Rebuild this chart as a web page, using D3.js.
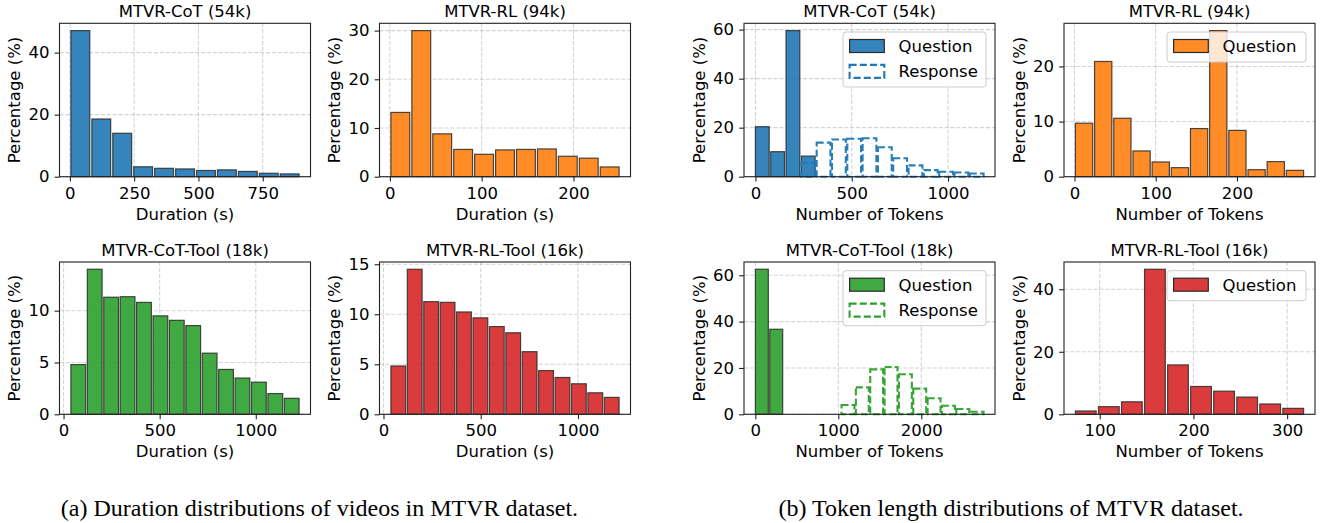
<!DOCTYPE html>
<html><head><meta charset="utf-8">
<script src="https://cdn.jsdelivr.net/npm/d3@7"></script>
<style>body{margin:0;background:#fff} svg{display:block}</style>
</head><body><svg id="c" width="1325" height="523"></svg>
<script>
// ---------- data ----------
const titles = ["MTVR-CoT (54k)", "MTVR-RL (94k)", "MTVR-CoT-Tool (18k)", "MTVR-RL-Tool (16k)",
                "MTVR-CoT (54k)", "MTVR-RL (94k)", "MTVR-CoT-Tool (18k)", "MTVR-RL-Tool (16k)"];
const xLabels = ["Duration (s)", "Duration (s)", "Duration (s)", "Duration (s)",
                 "Number of Tokens", "Number of Tokens", "Number of Tokens", "Number of Tokens"];
const yLabel = "Percentage (%)";
const seriesNames = ["Question", "Response"];
const captions = ["(a) Duration distributions of videos in MTVR dataset.",
                  "(b) Token length distributions of MTVR dataset."];

// (a) duration histograms: bin start, bin width, percentages
const durCoTBins = [0, 81.4];
const durCoT = [47.1, 18.6, 14.0, 3.2, 2.7, 2.5, 2.0, 2.2, 1.7, 1.1, 0.9];
const durRLBins = [0, 22.8];
const durRL = [13.2, 30.0, 8.8, 5.6, 4.6, 5.5, 5.6, 5.7, 4.2, 3.8, 2.0];
const durCoTToolBins = [34, 85.4];
const durCoTTool = [4.8, 14.0, 11.3, 11.35, 10.8, 9.5, 9.07, 8.56, 5.9, 4.33, 3.5, 3.1, 2.0, 1.54];
const durRLToolBins = [34, 84.4];
const durRLTool = [4.83, 14.5, 11.26, 11.19, 10.23, 9.64, 8.77, 8.15, 6.26, 4.37, 3.68, 3.05, 2.15, 1.69];

// (b) token histograms (shared bins per panel; first bin index of each series)
const tokCoTBins = [-4, 79.5];
const tokCoTQuestion = [20.4, 10.2, 59.6, 8.4];            // bins 0..3
const tokCoTResponse = [5.7, 13.9, 15.2, 15.5, 15.7, 12.0, 7.5, 4.6, 2.7, 2.0, 1.7, 1.3]; // bins 3..14
const tokCoTOffsets = [0, 3];
const tokRLBins = [0, 23.6];
const tokRLQuestion = [9.7, 20.9, 10.6, 4.67, 2.67, 1.64, 8.73, 26.5, 8.4, 1.27, 2.73, 1.15];
const tokCoTToolBins = [-8, 173];
const tokCoTToolQuestion = [62.6, 36.7];                    // bins 0..1
const tokCoTToolResponse = [4.0, 11.6, 19.4, 20.4, 17.3, 11.1, 6.9, 3.7, 2.3, 1.1]; // bins 6..15
const tokCoTToolOffsets = [0, 6];
const tokRLToolBins = [72.8, 24.6];
const tokRLToolQuestion = [1.06, 2.44, 4.0, 46.4, 15.8, 8.9, 7.4, 5.5, 3.3, 1.9];

// tick values
const xTicks = [[0,250,500,750],[0,100,200],[0,500,1000],[0,500,1000],
                [0,500,1000],[0,100,200],[0,1000,2000],[100,200,300]];
const yTicks = [[0,20,40],[0,10,20,30],[0,5,10],[0,5,10,15],
                [0,20,40,60],[0,10,20],[0,20,40,60],[0,20,40]];

const colors = {blue:"#1f77b4", orange:"#ff7f0e", green:"#2ca02c", red:"#d62728"};

// ---------- layout ----------
const colX = [59.5, 379.5, 744, 1064], panelW = 251;
const rowY = [23.3, 262], rowH = [153.4, 152.3];
const FONT = "'DejaVu Sans', sans-serif", FS = 16.5;

const panels = [
  {col:0,row:0,color:colors.blue,  series:[{v:durCoT,b:durCoTBins,o:0,type:"solid"}]},
  {col:1,row:0,color:colors.orange,series:[{v:durRL,b:durRLBins,o:0,type:"solid"}]},
  {col:0,row:1,color:colors.green, series:[{v:durCoTTool,b:durCoTToolBins,o:0,type:"solid"}]},
  {col:1,row:1,color:colors.red,   series:[{v:durRLTool,b:durRLToolBins,o:0,type:"solid"}]},
  {col:2,row:0,color:colors.blue,  legend:true, series:[
      {v:tokCoTQuestion,b:tokCoTBins,o:tokCoTOffsets[0],type:"solid",name:seriesNames[0]},
      {v:tokCoTResponse,b:tokCoTBins,o:tokCoTOffsets[1],type:"dashed",name:seriesNames[1]}]},
  {col:3,row:0,color:colors.orange,legend:true, series:[
      {v:tokRLQuestion,b:tokRLBins,o:0,type:"solid",name:seriesNames[0]}]},
  {col:2,row:1,color:colors.green, legend:true, series:[
      {v:tokCoTToolQuestion,b:tokCoTToolBins,o:tokCoTToolOffsets[0],type:"solid",name:seriesNames[0]},
      {v:tokCoTToolResponse,b:tokCoTToolBins,o:tokCoTToolOffsets[1],type:"dashed",name:seriesNames[1]}]},
  {col:3,row:1,color:colors.red,   legend:true, series:[
      {v:tokRLToolQuestion,b:tokRLToolBins,o:0,type:"solid",name:seriesNames[0]}]},
];

const svg = d3.select("#c");
svg.append("rect").attr("width",1325).attr("height",523).attr("fill","#fff");

panels.forEach((p, idx) => {
  const px = colX[p.col], py = rowY[p.row], w = panelW, h = rowH[p.row];
  const g = svg.append("g").attr("transform", `translate(${px},${py})`);
  const RW = 0.9;
  let lo = Infinity, hi = -Infinity, ymax = 0;
  p.series.forEach(s => {
    const [st, bw] = s.b, n = s.v.length;
    lo = Math.min(lo, st + s.o*bw + (1-RW)/2*bw);
    hi = Math.max(hi, st + (s.o+n)*bw - (1-RW)/2*bw);
    ymax = Math.max(ymax, d3.max(s.v));
  });
  const pad = (hi - lo) * 0.05;
  const x = d3.scaleLinear().domain([lo - pad, hi + pad]).range([0, w]);
  const y = d3.scaleLinear().domain([0, ymax * 1.05]).range([h, 0]);

  // grid
  const grid = g.append("g");
  xTicks[idx].forEach(t => grid.append("line").attr("x1",x(t)).attr("x2",x(t)).attr("y1",0).attr("y2",h));
  yTicks[idx].forEach(t => grid.append("line").attr("y1",y(t)).attr("y2",y(t)).attr("x1",0).attr("x2",w));
  grid.selectAll("line").attr("stroke","#b0b0b0").attr("stroke-opacity",0.55)
      .attr("stroke-width",1.1).attr("stroke-dasharray","4.1,1.8");

  // bars
  p.series.forEach(s => {
    const [st, bw] = s.b;
    const sel = g.append("g").selectAll("rect").data(s.v).join("rect")
      .attr("x", (d,i) => x(st + (s.o+i)*bw + (1-RW)/2*bw))
      .attr("width", (d,i) => x(st + (s.o+i)*bw + (1-RW)/2*bw + RW*bw) - x(st + (s.o+i)*bw + (1-RW)/2*bw))
      .attr("y", d => y(d))
      .attr("height", d => y(0) - y(d));
    if (s.type === "solid") {
      sel.attr("fill", p.color).attr("fill-opacity", 0.9)
         .attr("stroke", "#2a2a2a").attr("stroke-opacity", 0.85).attr("stroke-width", 1.2);
    } else {
      sel.attr("fill", "none").attr("stroke", p.color).attr("stroke-opacity", 0.95)
         .attr("stroke-width", 2.1).attr("stroke-dasharray", "7,3.2");
    }
  });

  // axes
  const ax = g.append("g").attr("transform", `translate(0,${h})`)
    .call(d3.axisBottom(x).tickValues(xTicks[idx]).tickSize(4.9).tickPadding(5.4).tickFormat(d3.format("d")));
  const ay = g.append("g")
    .call(d3.axisLeft(y).tickValues(yTicks[idx]).tickSize(4.9).tickPadding(5.1).tickFormat(d3.format("d")));
  [ax, ay].forEach(a => {
    a.select(".domain").remove();
    a.selectAll(".tick line").attr("stroke","#222").attr("stroke-width",1.1);
    a.selectAll(".tick text").attr("font-family",FONT).attr("font-size",FS).attr("fill","#000");
  });

  // spines
  g.append("rect").attr("width",w).attr("height",h).attr("fill","none")
   .attr("stroke","#222").attr("stroke-width",1.1);

  // labels
  g.append("text").attr("x",w/2).attr("y",-6).attr("text-anchor","middle")
   .attr("font-family",FONT).attr("font-size",FS).text(titles[idx]);
  g.append("text").attr("x",w/2).attr("y",h+43).attr("text-anchor","middle")
   .attr("font-family",FONT).attr("font-size",FS).text(xLabels[idx]);
  g.append("text").attr("transform",`translate(-39.5,${h/2}) rotate(-90)`).attr("text-anchor","middle")
   .attr("font-family",FONT).attr("font-size",FS).text(yLabel);

  // legend
  if (p.legend) {
    const n = p.series.length;
    const bwid = n === 2 ? 143 : 139, bht = n === 2 ? 55 : 30;
    const bx = w - 9 - bwid, by = 8.7;
    const lg = g.append("g");
    lg.append("rect").attr("x",bx).attr("y",by).attr("width",bwid).attr("height",bht).attr("rx",3)
      .attr("fill","#fff").attr("fill-opacity",0.8).attr("stroke","#cccccc").attr("stroke-width",1);
    p.series.forEach((s,i) => {
      const cy = by + 14 + i*25.4;
      const r = lg.append("rect").attr("x",bx+6.6).attr("y",cy-6.5).attr("width",34.7).attr("height",13);
      if (s.type === "solid") r.attr("fill",p.color).attr("fill-opacity",0.9).attr("stroke","#2a2a2a").attr("stroke-width",1.2);
      else r.attr("fill","none").attr("stroke",p.color).attr("stroke-width",2.1).attr("stroke-dasharray","7,3.2");
      lg.append("text").attr("x",bx+55.6).attr("y",cy).attr("dy","0.36em")
        .attr("font-family",FONT).attr("font-size",FS).text(s.name);
    });
  }
});

// captions
svg.append("text").attr("x",319.5).attr("y",516).attr("text-anchor","middle")
  .attr("font-family","'Liberation Serif', 'Times New Roman', serif").attr("font-size",24).text(captions[0]);
svg.append("text").attr("x",1011).attr("y",516).attr("text-anchor","middle")
  .attr("font-family","'Liberation Serif', 'Times New Roman', serif").attr("font-size",24).text(captions[1]);
</script></body></html>
